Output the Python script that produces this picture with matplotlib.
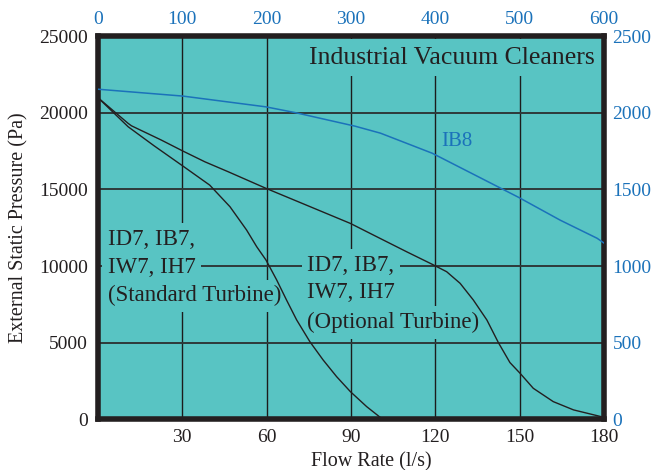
import numpy as np
import matplotlib.pyplot as plt

# colours
teal = '#58C4C3'
blue = '#1B72BA'
ink = '#231F20'

# Optional turbine curve (l/s, Pa)
opt_x = [0, 10.8, 12, 22.6, 30.3, 38.1, 46.4, 59.8, 75, 89.8, 98, 109.8, 118.9,
         124.0, 128.8, 133.5, 138.3, 142.4, 146.5, 150.1, 154.8, 161.9, 169.1, 179.8]
opt_y = [21000, 19310, 19150, 18220, 17500, 16800, 16150, 15070, 13910, 12780,
         12020, 10930, 10110, 9630, 8870, 7780, 6480, 5000, 3700, 3000, 2020,
         1150, 610, 130]

# Standard turbine curve
std_x = [0, 10.8, 20, 30.3, 39.8, 47.0, 52.9, 56.5, 59.8, 63.6, 67.1, 70.7,
         75.4, 80.1, 84.9, 89.8, 95.6, 100.9]
std_y = [21000, 19090, 17850, 16520, 15280, 13870, 12350, 11260, 10390, 9090,
         7780, 6480, 5060, 3870, 2780, 1800, 820, 50]

# IB8 curve
ib8_x = [0, 30.3, 59.7, 70, 91.4, 100.5, 118.9, 149.5, 164.4, 177.5, 180]
ib8_y = [21540, 21090, 20390, 20020, 19130, 18670, 17360, 14490, 12990, 11810, 11490]

bottom_ticks = [30, 60, 90, 120, 150, 180]
left_ticks = [0, 5000, 10000, 15000, 20000, 25000]
top_ticks = [0, 100, 200, 300, 400, 500, 600]
right_ticks = [0, 500, 1000, 1500, 2000, 2500]

plt.rcParams['font.family'] = ['Liberation Serif', 'DejaVu Serif']

fig = plt.figure(figsize=(6.56, 4.70), dpi=100)
ax = fig.add_axes([0.149, 0.108, 0.772, 0.815])
ax.set_facecolor(teal)
ax.set_xlim(0, 180)
ax.set_ylim(0, 25000)

ax.set_xticks(bottom_ticks)
ax.set_yticks(left_ticks)
ax.tick_params(length=0, labelsize=14, colors=ink)
ax.tick_params(axis='x', pad=7)
ax.tick_params(axis='y', pad=7)
ax.set_axisbelow(True)
ax.xaxis.grid(True, color='#1c1c1c', lw=1.0)
ax.yaxis.grid(True, color='#2e3a3a', lw=1.4)
for s in ax.spines.values():
    s.set_linewidth(4)
    s.set_color(ink)

top = ax.secondary_xaxis('top', functions=(lambda x: x / 0.3, lambda x: x * 0.3))
top.set_xticks(top_ticks)
top.tick_params(length=0, labelsize=14, colors=blue, pad=6)
right = ax.secondary_yaxis('right', functions=(lambda y: y / 10, lambda y: y * 10))
right.set_yticks(right_ticks)
right.tick_params(length=0, labelsize=14, colors=blue, pad=6)
for sec in (top, right):
    for s in sec.spines.values():
        s.set_visible(False)

ax.plot(opt_x, opt_y, color=ink, lw=1.0, zorder=4)
ax.plot(std_x, std_y, color=ink, lw=1.0, zorder=4)
ax.plot(ib8_x, ib8_y, color=blue, lw=1.1, zorder=4)

box = dict(boxstyle='square,pad=0.25', fc=teal, ec='none')
left_lines = ['ID7, IB7,', 'IW7, IH7', '(Standard Turbine)']
for txt, yy in zip(left_lines, [11750, 9900, 8050]):
    ax.text(3.6, yy, txt, fontsize=16.5, color=ink, va='center', ha='left',
            bbox=box, zorder=2)
right_lines = ['ID7, IB7,', 'IW7, IH7', '(Optional Turbine)']
for txt, yy in zip(right_lines, [10050, 8250, 6300]):
    ax.text(74.5, yy, txt, fontsize=16.5, color=ink, va='center', ha='left',
            bbox=box, zorder=2)

ax.text(122, 18100, 'IB8', fontsize=15, color=blue, va='center', ha='left', zorder=2)
ax.text(176.8, 23600, 'Industrial Vacuum Cleaners', fontsize=18.5, color=ink,
        va='center', ha='right', zorder=2,
        bbox=dict(boxstyle='square,pad=0.3', fc=teal, ec='none'))

ax.set_xlabel('Flow Rate (l/s)', fontsize=14.5, color=ink, labelpad=2)
ax.xaxis.set_label_coords(0.54, -0.085)
ax.set_ylabel('External Static Pressure (Pa)', fontsize=14.5, color=ink, labelpad=8)

fig.savefig('out.png', dpi=100, facecolor='white')
